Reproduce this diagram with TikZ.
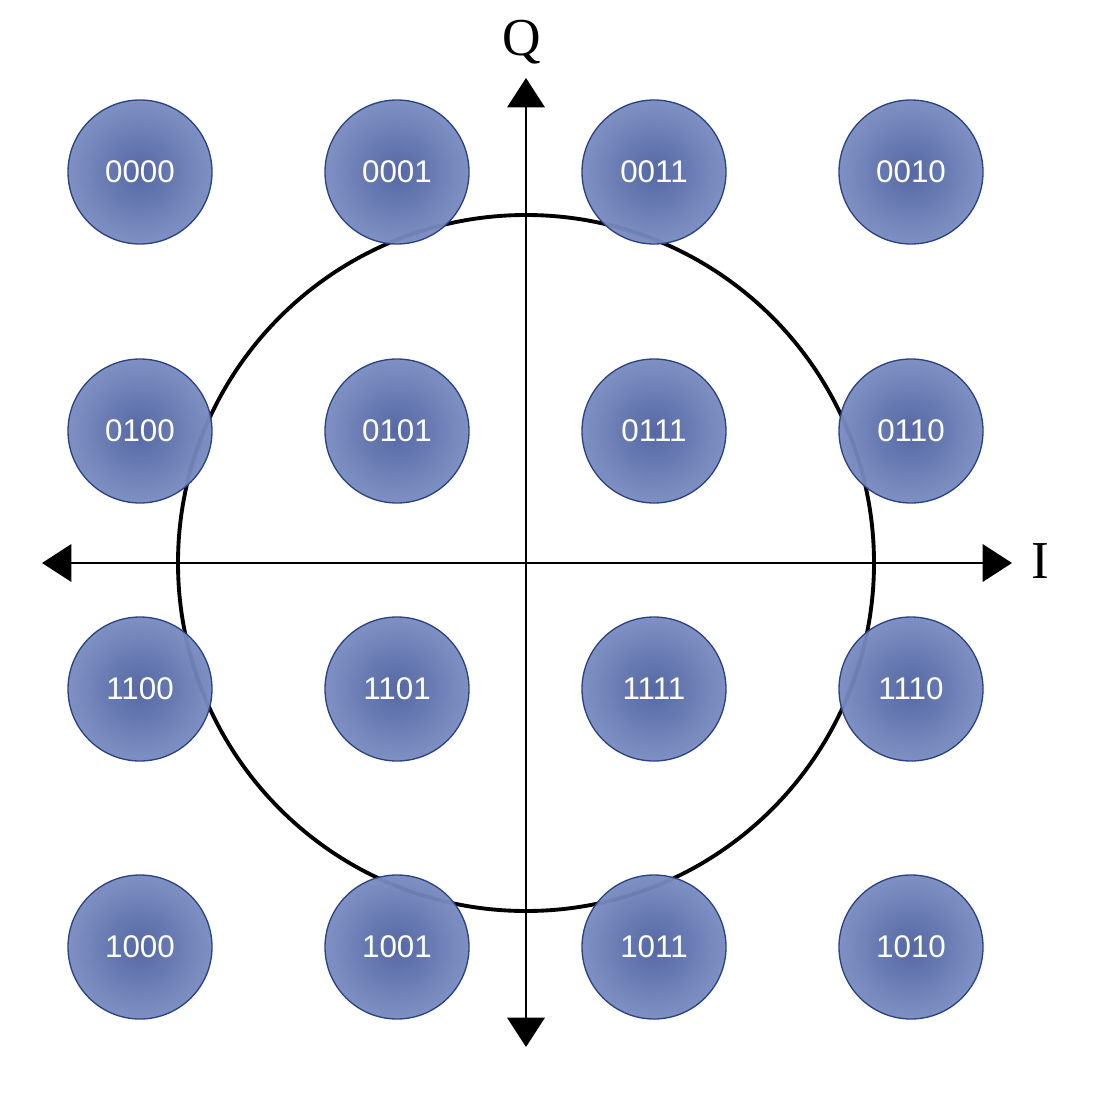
\documentclass[tikz,border=0pt]{standalone}
\usepackage{fontspec}
\setmainfont{Liberation Serif}
\newfontfamily\labfont{Liberation Sans}
\definecolor{ballin}{RGB}{78,98,160}
\definecolor{ballout}{RGB}{166,181,224}
\definecolor{balledge}{RGB}{44,66,134}
\pgfdeclareradialshading{ballshade}{\pgfpoint{0bp}{0bp}}{color(0bp)=(ballin); color(50bp)=(ballout)}
\tikzset{
  ball/.style={circle, minimum size=108pt, inner sep=0pt, shading=ballshade, draw=balledge, line width=1pt, fill opacity=0.96, text opacity=1, text=white, font=\labfont\fontsize{23.5}{28}\selectfont},
  axis/.style={line width=1.8pt, -{Triangle[length=22pt,width=28pt]}},
  axlabel/.style={font=\fontsize{40}{44}\selectfont, inner sep=0pt}
}
\usetikzlibrary{arrows.meta}
\begin{document}
\begin{tikzpicture}[x=0.75pt,y=-0.75pt]
\useasboundingbox (0,0) rectangle (1106,1116);
\coordinate (O) at (526,563);
\coordinate (L) at (42,563);
\coordinate (R) at (1012,563);
\coordinate (T) at (526,78);
\coordinate (B) at (526,1047);
\draw[axis] (O) -- (R);
\draw[axis] (O) -- (L);
\draw[axis] (O) -- (T);
\draw[axis] (O) -- (B);
\node[axlabel] (Q) at (522,42) {Q};
\node[axlabel] (I) at (1040,561) {I};
\draw[line width=2.9pt] (O) circle[radius=348];
\foreach \r/\y in {0/172,1/431,2/689,3/947}{
  \foreach \c/\x in {0/140,1/397,2/654,3/911}{
    \coordinate (p\r\c) at (\x,\y);
  }
}
\node[ball] (n0000) at (p00) {0000};
\node[ball] (n0001) at (p01) {0001};
\node[ball] (n0011) at (p02) {0011};
\node[ball] (n0010) at (p03) {0010};
\node[ball] (n0100) at (p10) {0100};
\node[ball] (n0101) at (p11) {0101};
\node[ball] (n0111) at (p12) {0111};
\node[ball] (n0110) at (p13) {0110};
\node[ball] (n1100) at (p20) {1100};
\node[ball] (n1101) at (p21) {1101};
\node[ball] (n1111) at (p22) {1111};
\node[ball] (n1110) at (p23) {1110};
\node[ball] (n1000) at (p30) {1000};
\node[ball] (n1001) at (p31) {1001};
\node[ball] (n1011) at (p32) {1011};
\node[ball] (n1010) at (p33) {1010};
\end{tikzpicture}
\end{document}
